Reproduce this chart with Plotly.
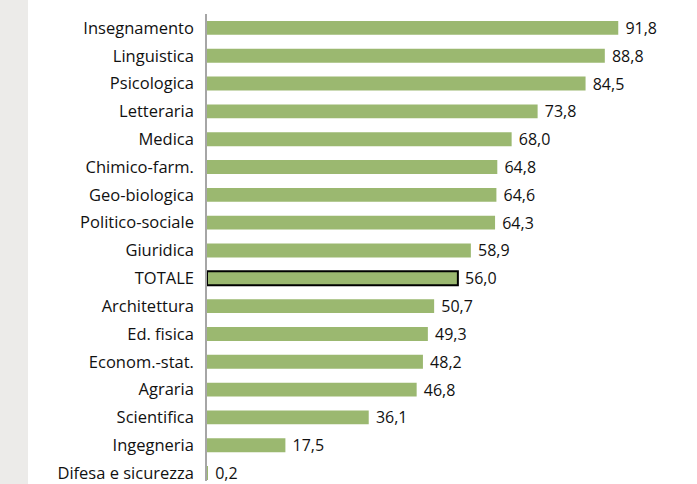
import plotly.graph_objects as go

categories = ["Insegnamento", "Linguistica", "Psicologica", "Letteraria", "Medica",
              "Chimico-farm.", "Geo-biologica", "Politico-sociale", "Giuridica", "TOTALE",
              "Architettura", "Ed. fisica", "Econom.-stat.", "Agraria", "Scientifica",
              "Ingegneria", "Difesa e sicurezza"]
values = [91.8, 88.8, 84.5, 73.8, 68.0, 64.8, 64.6, 64.3, 58.9, 56.0,
          50.7, 49.3, 48.2, 46.8, 36.1, 17.5, 0.2]

labels = ["\u00a0" + f"{v:.1f}".replace(".", ",") for v in values]
line_w = [2 if c == "TOTALE" else 0 for c in categories]

fig = go.Figure(go.Bar(
    x=values, y=categories, orientation="h",
    marker=dict(color="#9BB870", line=dict(color="#000000", width=line_w)),
    width=0.5,
    text=labels, textposition="outside", cliponaxis=False, constraintext="none",
    textfont=dict(family="Open Sans", size=16, color="#111111"),
))

W, H = 697, 484
L, R, T, B = 207, 42, 14, 0
pw = W - L - R
ph = H - T - B

fig.add_shape(type="rect", xref="paper", yref="paper",
              x0=-L / pw, x1=(28 - L) / pw, y0=-0.01, y1=1 + T / ph + 0.01,
              fillcolor="#ECEBE9", line_width=0, layer="below")

fig.update_layout(
    width=W, height=H,
    margin=dict(l=L, r=R, t=T, b=B),
    paper_bgcolor="white", plot_bgcolor="white",
    showlegend=False,
    font=dict(family="Open Sans", size=16, color="#111111"),
    xaxis=dict(range=[0, 100], visible=False, fixedrange=True),
    yaxis=dict(type="category", categoryorder="array", categoryarray=categories,
               range=[16.5 - (28 * 17 - ph) / 28, -0.5],
               showline=True, linecolor="#A6A6A6", linewidth=1.5,
               ticks="", ticklabelstandoff=8, showgrid=False, zeroline=False,
               tickfont=dict(family="Open Sans", size=16.5, color="#111111")),
)

fig.write_html("out.html", config={"displayModeBar": False},
               post_script="document.body.style.margin='0';document.body.style.overflow='hidden';")
